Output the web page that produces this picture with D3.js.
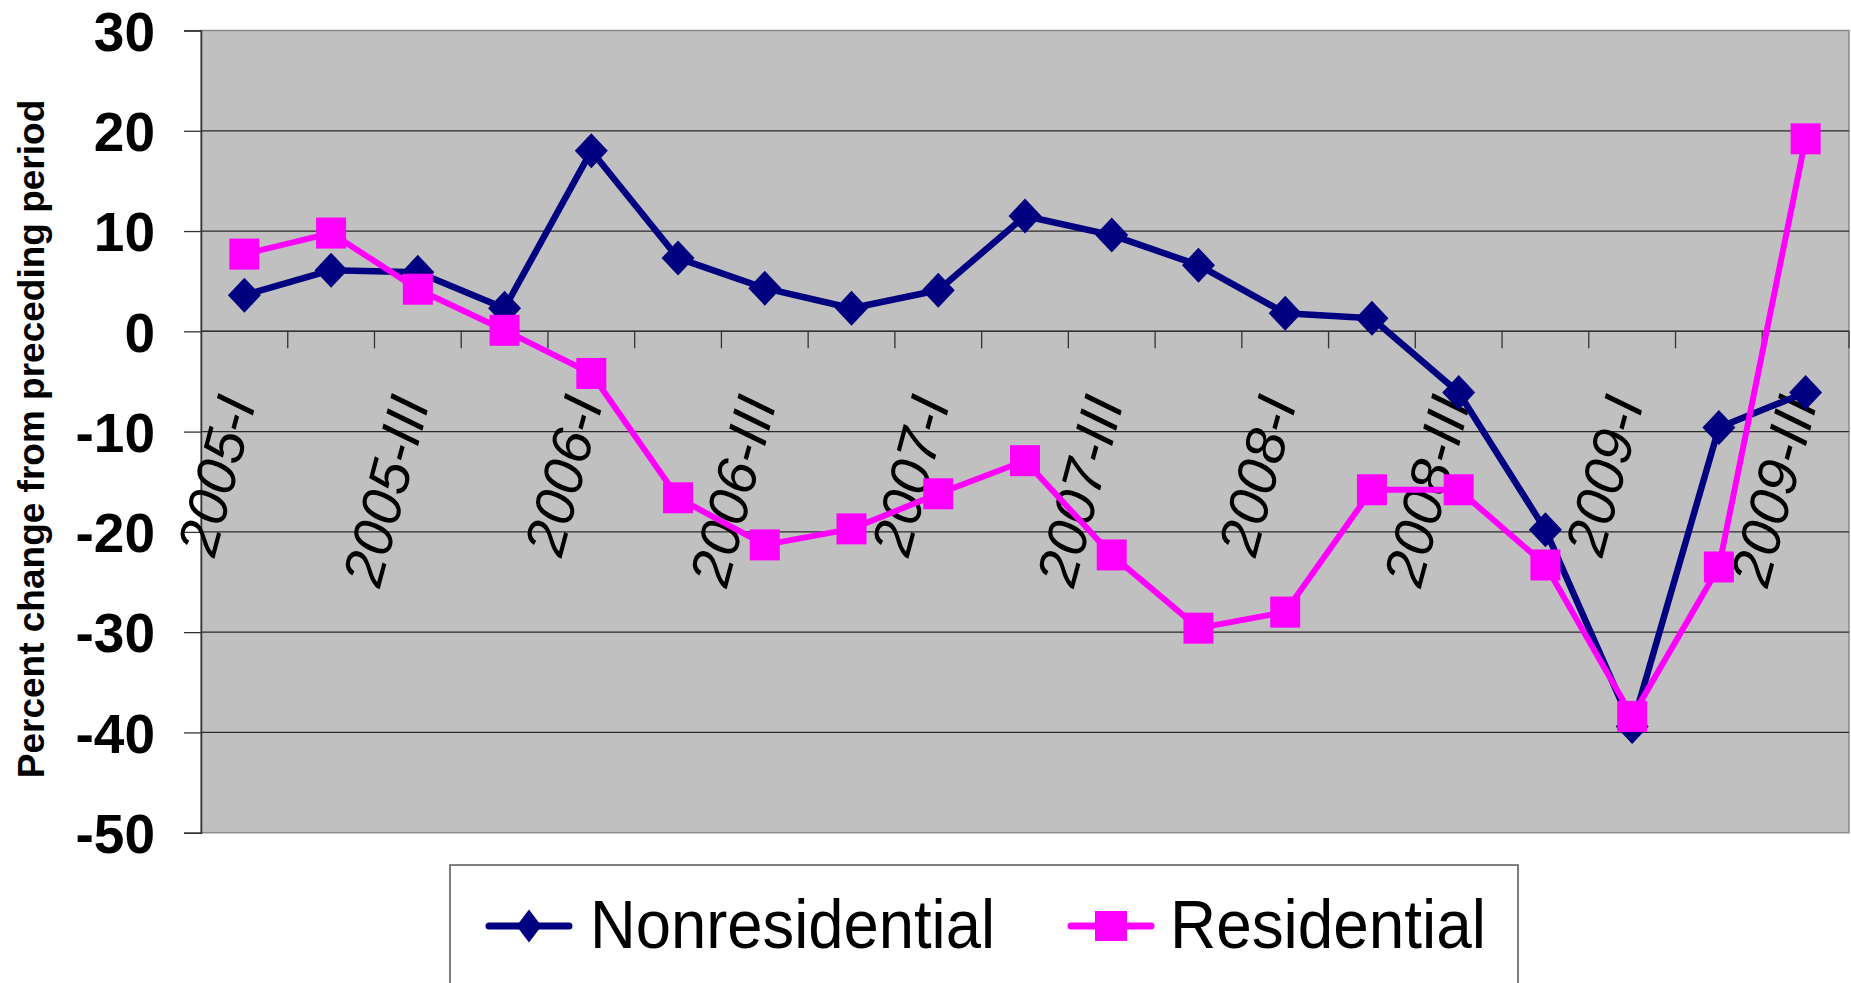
<!DOCTYPE html>
<html>
<head>
<meta charset="utf-8">
<script src="https://cdn.jsdelivr.net/npm/d3@7"></script>
<style>
  body { margin: 0; background: #fff; }
  svg { display: block; font-family: 'Liberation Sans', Arial, sans-serif; }
</style>
</head>
<body>
<div id="chart"></div>
<script>
const quarters = [
  '2005-I', '2005-II', '2005-III', '2005-IV',
  '2006-I', '2006-II', '2006-III', '2006-IV',
  '2007-I', '2007-II', '2007-III', '2007-IV',
  '2008-I', '2008-II', '2008-III', '2008-IV',
  '2009-I', '2009-II', '2009-III'
]
const quarterLabels = ['2005-I', '2005-III', '2006-I', '2006-III', '2007-I', '2007-III', '2008-I', '2008-III', '2009-I', '2009-III']
const nonresidential = [3.6, 6.1, 5.9, 2.3, 18.0, 7.3, 4.3, 2.3, 4.1, 11.5, 9.6, 6.6, 1.8, 1.3, -6.1, -19.8, -39.4, -9.6, -6.1]
const residential = [7.7, 9.8, 4.2, 0.1, -4.2, -16.6, -21.3, -19.7, -16.2, -12.9, -22.3, -29.6, -28.0, -15.8, -15.8, -23.3, -38.4, -23.5, 19.2]
const yTicks = [30, 20, 10, 0, -10, -20, -30, -40, -50]
const seriesNames = ['Nonresidential', 'Residential']
const yTitle = 'Percent change from preceding period'

const width = 1851
const height = 983
const plot = { left: 201, right: 1849, top: 30.5, bottom: 832.7 }

const svg = d3.select('#chart')
  .append('svg')
  .attr('width', width)
  .attr('height', height)

const x = d3.scaleBand()
  .domain(quarters)
  .range([plot.left, plot.right])
  .padding(0)

const y = d3.scaleLinear()
  .domain([-50, 30])
  .range([plot.bottom, plot.top])

const cx = d => x(d) + x.bandwidth() / 2

// plot area
svg.append('rect')
  .attr('x', plot.left)
  .attr('y', plot.top)
  .attr('width', plot.right - plot.left)
  .attr('height', plot.bottom - plot.top)
  .attr('fill', '#c0c0c0')
  .attr('stroke', '#8a8a8a')
  .attr('stroke-width', 1.5)

svg.append('g')
  .attr('class', 'grid')
  .selectAll('line')
  .data(yTicks.filter(v => v !== 30 && v !== -50))
  .enter()
  .append('line')
  .attr('x1', plot.left)
  .attr('x2', plot.right)
  .attr('y1', d => y(d))
  .attr('y2', d => y(d))
  .attr('stroke', '#2a2a2a')
  .attr('stroke-width', 1.3)

// y axis, hyphen minus like the original
const yAxis = svg.append('g')
  .attr('transform', `translate(${plot.left},0)`)
  .call(d3.axisLeft(y).tickValues(yTicks).tickSize(17).tickPadding(29).tickFormat(d => String(d)))

yAxis.select('.domain').attr('stroke', '#333').attr('stroke-width', 1.5)
yAxis.selectAll('.tick line').attr('stroke', '#333').attr('stroke-width', 1.3)
yAxis.selectAll('.tick text')
  .attr('fill', '#000')
  .attr('font-size', 55)
  .attr('font-weight', 'bold')
  .attr('font-family', "'Liberation Sans', Arial, sans-serif")
  .attr('dy', '0.36em')

svg.append('text')
  .attr('transform', `translate(44,439) rotate(-90)`)
  .attr('text-anchor', 'middle')
  .attr('font-size', 37)
  .attr('font-weight', 'bold')
  .text(yTitle)

// x axis at zero
const xAxis = svg.append('g')
xAxis.append('line')
  .attr('x1', plot.left)
  .attr('x2', plot.right)
  .attr('y1', y(0))
  .attr('y2', y(0))
  .attr('stroke', '#333')
  .attr('stroke-width', 1.5)

xAxis.selectAll('.xtick')
  .data(quarters.slice(1).map(q => x(q)).concat([x.range()[1]]))
  .enter()
  .append('line')
  .attr('class', 'xtick')
  .attr('x1', d => d)
  .attr('x2', d => d)
  .attr('y1', y(0))
  .attr('y2', y(0) + 17)
  .attr('stroke', '#333')
  .attr('stroke-width', 1.3)

xAxis.selectAll('.xlabel')
  .data(quarterLabels)
  .enter()
  .append('text')
  .attr('class', 'xlabel')
  .attr('transform', d => `translate(${cx(d) + 12},${y(0) + 71}) rotate(-75)`)
  .attr('text-anchor', 'end')
  .attr('font-size', 57)
  .attr('font-style', 'italic')
  .text(d => d)

// series
const line = d3.line()
  .x((d, i) => cx(quarters[i]))
  .y(d => y(d))

svg.append('path')
  .datum(nonresidential)
  .attr('d', line)
  .attr('fill', 'none')
  .attr('stroke', '#000080')
  .attr('stroke-width', 6.5)
  .attr('stroke-linejoin', 'round')

const diamond = (w, h) => `M0,${-h / 2}L${w / 2},0L0,${h / 2}L${-w / 2},0Z`

svg.append('g')
  .selectAll('path')
  .data(nonresidential)
  .enter()
  .append('path')
  .attr('d', diamond(33, 35))
  .attr('transform', (d, i) => `translate(${cx(quarters[i])},${y(d)})`)
  .attr('fill', '#000080')

svg.append('path')
  .datum(residential)
  .attr('d', line)
  .attr('fill', 'none')
  .attr('stroke', '#ff00ff')
  .attr('stroke-width', 6)
  .attr('stroke-linejoin', 'round')

svg.append('g')
  .selectAll('rect')
  .data(residential)
  .enter()
  .append('rect')
  .attr('x', (d, i) => cx(quarters[i]) - 15)
  .attr('y', d => y(d) - 15.5)
  .attr('width', 30)
  .attr('height', 31)
  .attr('fill', '#ff00ff')

// legend
const legend = svg.append('g')
legend.append('rect')
  .attr('x', 450)
  .attr('y', 865)
  .attr('width', 1068)
  .attr('height', 200)
  .attr('fill', '#fff')
  .attr('stroke', '#555')
  .attr('stroke-width', 1.5)

const legendItems = [
  { name: seriesNames[0], color: '#000080', cx: 529, textX: 590, textW: 405, marker: 'diamond' },
  { name: seriesNames[1], color: '#ff00ff', cx: 1111, textX: 1170, textW: 316, marker: 'square' }
]

legendItems.forEach(item => {
  legend.append('line')
    .attr('x1', item.cx - 40)
    .attr('x2', item.cx + 40)
    .attr('y1', 926)
    .attr('y2', 926)
    .attr('stroke', item.color)
    .attr('stroke-width', 7)
    .attr('stroke-linecap', 'round')
  if (item.marker === 'diamond') {
    legend.append('path')
      .attr('d', diamond(25, 33))
      .attr('transform', `translate(${item.cx},926)`)
      .attr('fill', item.color)
  } else {
    legend.append('rect')
      .attr('x', item.cx - 16)
      .attr('y', 911)
      .attr('width', 32)
      .attr('height', 30)
      .attr('fill', item.color)
  }
  legend.append('text')
    .attr('x', item.textX)
    .attr('y', 948)
    .attr('font-size', 68)
    .attr('textLength', item.textW)
    .attr('lengthAdjust', 'spacingAndGlyphs')
    .text(item.name)
})
</script>
</body>
</html>
